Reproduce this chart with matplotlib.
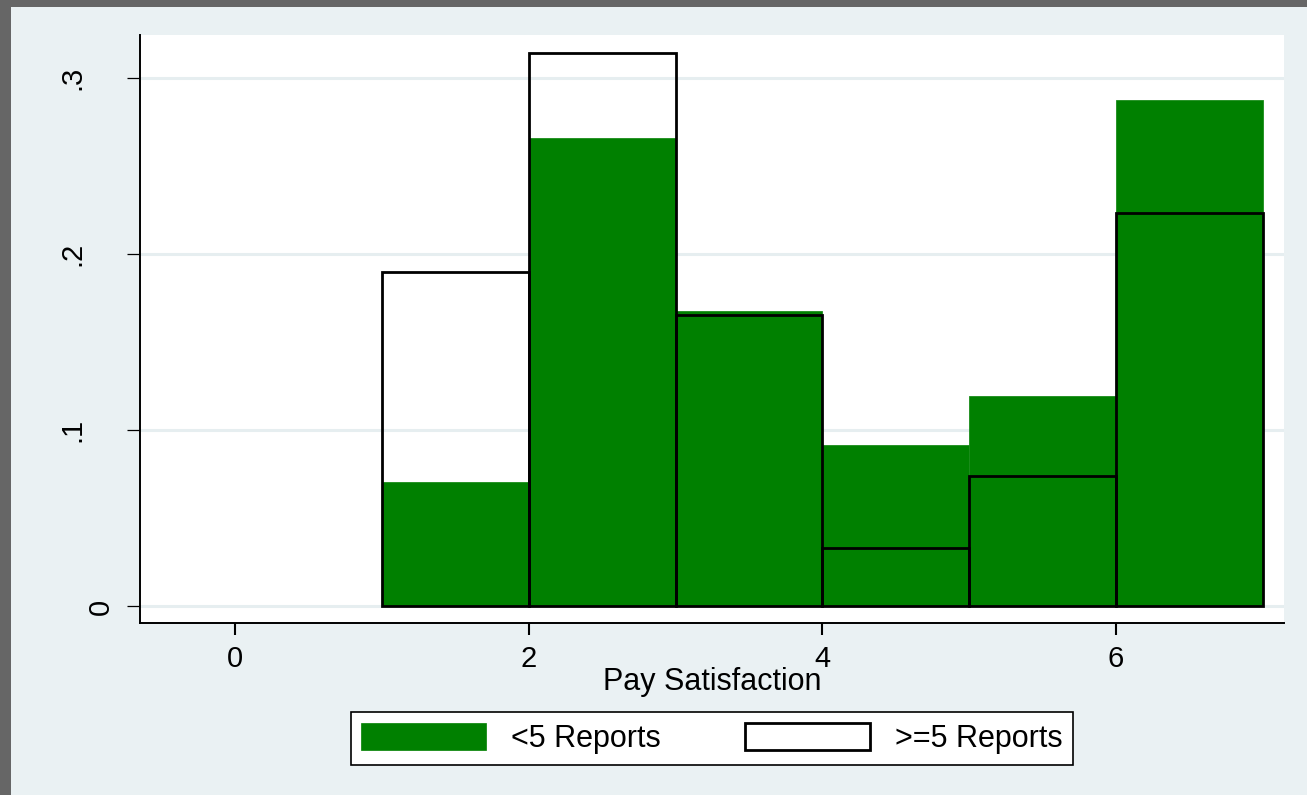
import matplotlib
matplotlib.use("Agg")
import matplotlib.pyplot as plt
from matplotlib.patches import Rectangle, Patch
from matplotlib.transforms import ScaledTranslation

# Pay satisfaction histogram (density per unit bin), split by number of reports
bin_left = [1, 2, 3, 4, 5, 6]
few_reports = [0.0708, 0.2659, 0.1677, 0.0917, 0.1195, 0.2875]    # <5 Reports
many_reports = [0.1900, 0.3142, 0.1654, 0.0334, 0.0742, 0.2234]   # >=5 Reports
x_ticks = [0, 2, 4, 6]
y_ticks = [0, 0.1, 0.2, 0.3]
y_tick_labels = ["0", ".1", ".2", ".3"]
series_labels = ["<5 Reports", ">=5 Reports"]
x_title = "Pay Satisfaction"

BG = "#eaf1f3"
GREEN = "#008000"
FONT = "Liberation Sans"
FS = 21
FS_BIG = 22

plt.rcParams["font.family"] = [FONT, "DejaVu Sans"]

fig = plt.figure(figsize=(13.07, 7.95), dpi=100, facecolor=BG)
W, H = 1307, 795

# dark frame along the top and left edges
fig.patches.append(Rectangle((0, 1 - 7 / H), 1, 7 / H, transform=fig.transFigure,
                             facecolor="#666666", edgecolor="none", zorder=0))
fig.patches.append(Rectangle((0, 0), 11 / W, 1, transform=fig.transFigure,
                             facecolor="#666666", edgecolor="none", zorder=0))

ax = fig.add_axes([140 / W, 1 - 623 / H, 1144 / W, 588 / H])
ax.set_facecolor("white")

ax.bar(bin_left, few_reports, width=1, align="edge", color=GREEN,
       edgecolor="#1a8c1a", linewidth=0.6, zorder=2)
ax.bar(bin_left, many_reports, width=1, align="edge", facecolor="none",
       edgecolor="black", linewidth=2.0, zorder=3)

ax.set_xlim(-0.647, 7.144)
ax.set_ylim(-0.00937, 0.3244)

ax.set_yticks(y_ticks)
ax.set_yticklabels(y_tick_labels, rotation=90, ha="right", va="center",
                   fontsize=FS)
ax.set_xticks(x_ticks)
ax.set_xticklabels([str(v) for v in x_ticks], fontsize=FS)

ax.yaxis.grid(True, color="#e6eef0", linewidth=2.2, zorder=0)
ax.set_axisbelow(True)

for side in ("top", "right"):
    ax.spines[side].set_visible(False)
for side in ("left", "bottom"):
    ax.spines[side].set_linewidth(1.4)
    ax.spines[side].set_color("black")

ax.tick_params(axis="y", length=9.5, width=0.9, pad=29, colors="black")
ax.tick_params(axis="x", length=8.5, width=1.5, pad=7.5, colors="black")

# nudge the zero label on the y axis to the right
for lbl in ax.get_yticklabels():
    if lbl.get_text() == "0":
        lbl.set_transform(lbl.get_transform() +
                          ScaledTranslation(28 / 100, 0, fig.dpi_scale_trans))

ax.set_xlabel(x_title, fontsize=FS_BIG)
ax.xaxis.label.set_va("baseline")
ax.xaxis.set_label_coords(0.5, -(690 - 623) / 588)

handles = [Patch(facecolor=GREEN, edgecolor=GREEN, linewidth=0.5),
           Patch(facecolor="white", edgecolor="black", linewidth=2.0)]
em = FS_BIG * 100 / 72
leg = fig.legend(handles, series_labels, loc="center", ncol=2,
                 bbox_to_anchor=(712 / W, 1 - 738.5 / H),
                 fontsize=FS_BIG, frameon=True, fancybox=False,
                 handlelength=125 / em, handleheight=30 / em,
                 handletextpad=25 / em, columnspacing=84 / em,
                 borderpad=0.35, borderaxespad=0)
frame = leg.get_frame()
frame.set_edgecolor("black")
frame.set_linewidth(1.2)
frame.set_facecolor("white")
frame.set_alpha(1)

fig.savefig("out.png", dpi=100, facecolor=BG)
